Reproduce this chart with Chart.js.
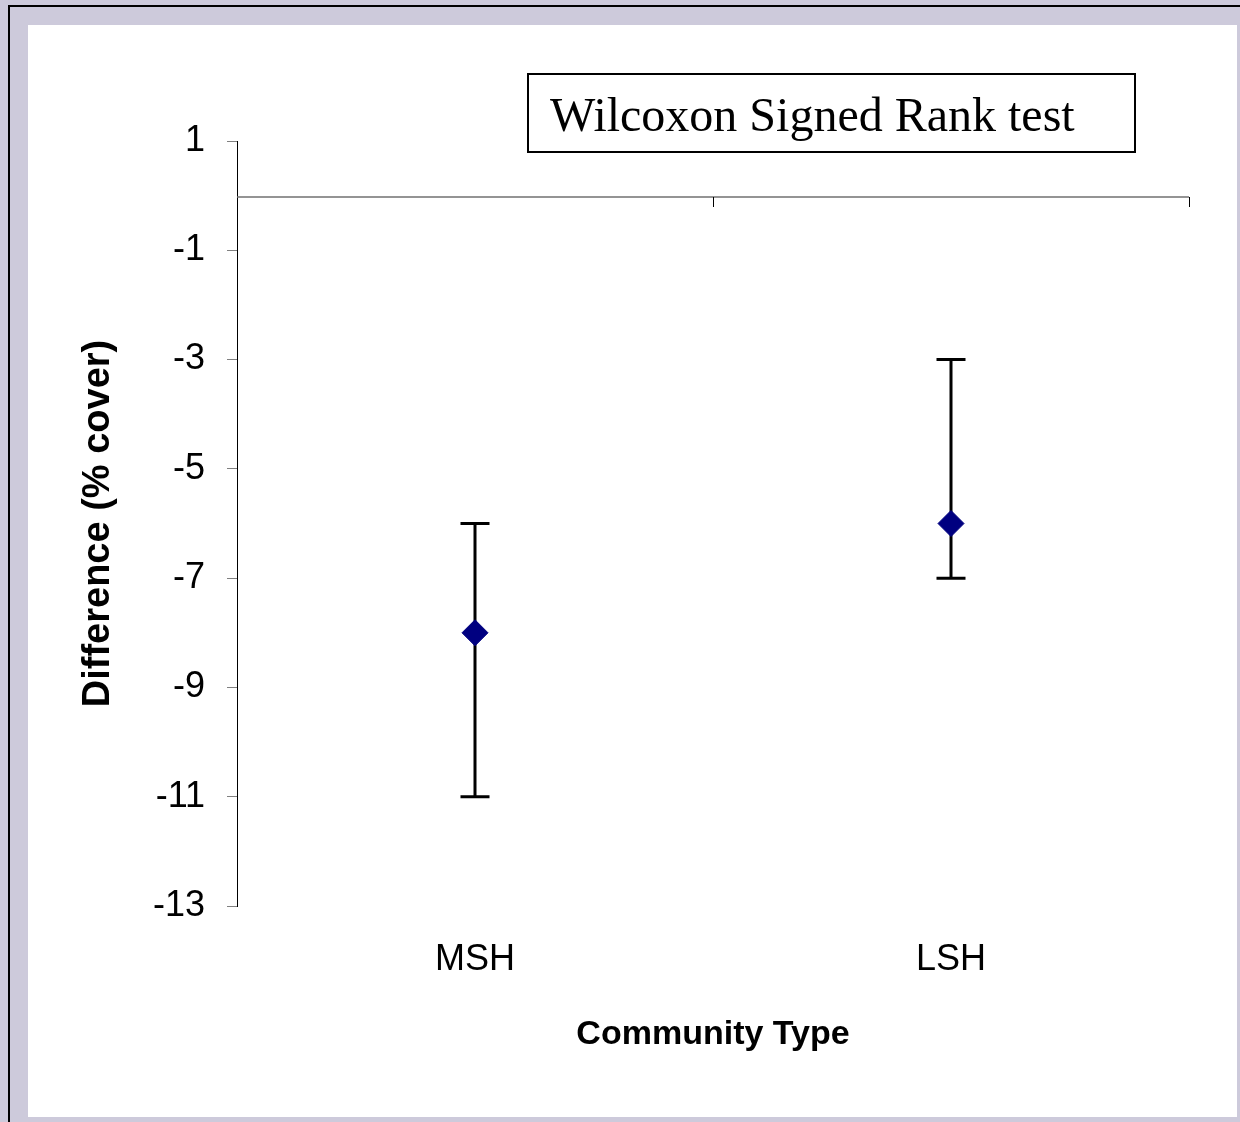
<!DOCTYPE html>
<html>
<head>
<meta charset="utf-8">
<script src="https://cdn.jsdelivr.net/npm/chart.js@4/dist/chart.umd.min.js"></script>
<style>
    body {
        margin: 0;
        width: 1240px;
        height: 1122px;
        overflow: hidden;
        position: relative;
        background: #cdcadb;
    }
    #frame {
        position: absolute;
        left: 8px;
        top: 5px;
        right: 0;
        bottom: 0;
        border-left: 2px solid #000;
        border-top: 2px solid #000;
    }
    #panel {
        position: absolute;
        left: 28px;
        top: 25px;
        width: 1209px;
        height: 1092px;
        background: #fff;
    }
    #testLabel {
        position: absolute;
        left: 499px;
        top: 48px;
        width: 609px;
        height: 80px;
        box-sizing: border-box;
        border: 2px solid #000;
        padding-left: 21px;
        padding-top: 3px;
        line-height: 73px;
        font-family: "Liberation Serif", "Times New Roman", serif;
        font-size: 48px;
        color: #000;
        white-space: nowrap;
    }
</style>
</head>
<body>
<div id="frame"></div>
<div id="panel">
    <canvas id="communityChart" width="1209" height="1092"></canvas>
    <div id="testLabel">Wilcoxon Signed Rank test</div>
</div>
<script>
// data
const categories = ["MSH", "LSH"];
const medianDiff = [-8, -6];
const errLow = [-11, -7];
const errHigh = [-6, -3];
const yTicks = [1, -1, -3, -5, -7, -9, -11, -13];

const sansFont = 'Arial, "Liberation Sans", sans-serif';

// zero line across the plot, tick marks between categories, error bars
const errorBarPlugin = {
    id: "errorBars",
    beforeDatasetsDraw(chart) {
        const ctx = chart.ctx;
        const xScale = chart.scales.x;
        const yScale = chart.scales.y;
        const area = chart.chartArea;
        const y0 = Math.round(yScale.getPixelForValue(0)) + 1;
        ctx.save();
        ctx.strokeStyle = "#707070";
        ctx.lineWidth = 1.5;
        ctx.beginPath();
        ctx.moveTo(area.left, y0);
        ctx.lineTo(area.right, y0);
        ctx.stroke();

        ctx.strokeStyle = "#000";
        ctx.lineWidth = 1;
        for (let i = 1; i <= categories.length; i++) {
            const px = Math.round(xScale.getPixelForValue(i - 0.5)) + 0.5;
            ctx.beginPath();
            ctx.moveTo(px, y0);
            ctx.lineTo(px, y0 + 10);
            ctx.stroke();
        }

        ctx.lineWidth = 3;
        for (let i = 0; i < categories.length; i++) {
            const px = xScale.getPixelForValue(i);
            const yl = yScale.getPixelForValue(errLow[i]);
            const yh = yScale.getPixelForValue(errHigh[i]);
            ctx.beginPath();
            ctx.moveTo(px, yl);
            ctx.lineTo(px, yh);
            ctx.moveTo(px - 14.5, yl);
            ctx.lineTo(px + 14.5, yl);
            ctx.moveTo(px - 14.5, yh);
            ctx.lineTo(px + 14.5, yh);
            ctx.stroke();
        }
        ctx.restore();
    }
};

const ctxCommunity = document.getElementById("communityChart");
const dataCommunity = {
    labels: categories,
    datasets: [{
        label: "Difference",
        data: medianDiff,
        showLine: false,
        pointStyle: "rectRot",
        pointRadius: 13,
        pointBackgroundColor: "#000080",
        pointBorderColor: "#000080",
        pointBorderWidth: 1,
    },],
};
const configCommunity = {
    type: "line",
    data: dataCommunity,
    plugins: [errorBarPlugin],
    options: {
        responsive: false,
        animation: false,
        layout: {
            padding: { top: 116, right: 48, left: 0, bottom: 0 },
        },
        plugins: {
            legend: { display: false },
            tooltip: { enabled: false },
        },
        scales: {
            x: {
                type: "category",
                offset: true,
                grid: { display: false },
                border: { display: false },
                ticks: {
                    color: "#000",
                    font: { family: sansFont, size: 36 },
                    padding: 24,
                },
                title: {
                    display: true,
                    text: "Community Type",
                    color: "#000",
                    font: { family: sansFont, size: 34, weight: "bold" },
                    padding: { top: 0, bottom: 62 },
                },
                afterFit: (scale) => { scale.height = 211; },
            },
            y: {
                min: -13,
                max: 1,
                afterBuildTicks: (scale) => {
                    scale.ticks = yTicks.map(v => ({ value: v }));
                },
                ticks: {
                    color: "#000",
                    font: { family: sansFont, size: 36 },
                    padding: 22,
                },
                grid: {
                    drawOnChartArea: false,
                    tickLength: 10,
                    color: "#808080",
                },
                border: { color: "#000", width: 1 },
                title: {
                    display: true,
                    text: "Difference (% cover)",
                    color: "#000",
                    font: { family: sansFont, size: 38, weight: "bold" },
                    padding: { top: 48, bottom: 0 },
                },
                afterFit: (scale) => { scale.width = 209; },
            },
        },
    },
};
new Chart(ctxCommunity, configCommunity);
</script>
</body>
</html>
